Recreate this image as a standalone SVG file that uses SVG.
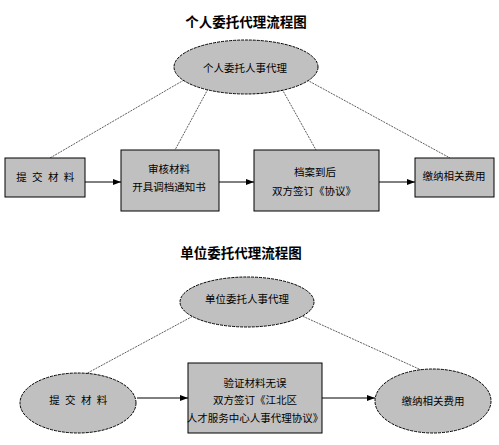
<svg xmlns="http://www.w3.org/2000/svg" width="499" height="445" viewBox="0 0 499 445">
<style>
.t{font-family:"Noto Sans CJK SC","Liberation Sans",sans-serif;font-size:10.5px;fill:#000;text-anchor:middle;dominant-baseline:central}
.sp{letter-spacing:1.5px}
.title{font-family:"Noto Sans CJK SC","Liberation Sans",sans-serif;font-size:13.5px;font-weight:bold;fill:#000;text-anchor:middle;dominant-baseline:central}
.box{fill:#c0c0c0;stroke:#000;stroke-width:1}
.ell{fill:#c0c0c0;stroke:#000;stroke-width:1;stroke-dasharray:3 1}
.dl{stroke:#333;stroke-width:0.8;stroke-dasharray:2 1;fill:none}
.ar{stroke:#000;stroke-width:1;fill:none;marker-end:url(#ah)}
</style>
<defs>
<marker id="ah" viewBox="0 0 8 8" refX="8" refY="4" markerWidth="8" markerHeight="8" markerUnits="userSpaceOnUse" orient="auto">
<path d="M0,1 L8,4 L0,7 Z" fill="#000"/>
</marker>
</defs>
<rect width="499" height="445" fill="#fff"/>
<text class="title" x="246" y="21">个人委托代理流程图</text>
<text class="title" x="241" y="252">单位委托代理流程图</text>
<g id="connectors">
<line class="dl" x1="184" y1="80" x2="50" y2="158"/>
<line class="dl" x1="208" y1="89" x2="175" y2="150"/>
<line class="dl" x1="282" y1="89" x2="316" y2="150"/>
<line class="dl" x1="307" y1="80" x2="450" y2="158"/>
<line class="ar" x1="85" y1="182" x2="121" y2="182"/>
<line class="ar" x1="219" y1="182" x2="254" y2="182"/>
<line class="ar" x1="379" y1="182" x2="415" y2="182"/>
<line class="dl" x1="195" y1="315" x2="82" y2="376"/>
<line class="dl" x1="300" y1="315" x2="430" y2="374"/>
<line class="ar" x1="137" y1="398" x2="188" y2="398"/>
<line class="ar" x1="322" y1="398" x2="375" y2="398"/>
</g>
<g id="n1"><ellipse class="ell" cx="246" cy="67" rx="72" ry="27"/><text class="t" x="245" y="67">个人委托人事代理</text></g>
<g id="n2"><rect class="box" x="5" y="158" width="80" height="39"/><text class="t sp" x="46" y="176">提 交 材 料</text></g>
<g id="n3"><rect class="box" x="121" y="150" width="98" height="61"/><text class="t" x="169" y="168">审核材料</text><text class="t" x="169" y="186">开具调档通知书</text></g>
<g id="n4"><rect class="box" x="254" y="150" width="125" height="61"/><text class="t" x="315" y="171">档案到后</text><text class="t" x="314" y="190">双方签订《协议》</text></g>
<g id="n5"><rect class="box" x="415" y="158" width="79" height="39"/><text class="t" x="454" y="175">缴纳相关费用</text></g>
<g id="n6"><ellipse class="ell" cx="247" cy="302" rx="67" ry="25"/><text class="t" x="247" y="298">单位委托人事代理</text></g>
<g id="n7"><ellipse class="ell" cx="78" cy="403" rx="58" ry="30"/><text class="t sp" x="79" y="399">提 交 材 料</text></g>
<g id="n8"><rect class="box" x="188" y="363" width="134" height="70"/><text class="t" x="255" y="382">验证材料无误</text><text class="t" x="255" y="399">双方签订《江北区</text><text class="t" x="255" y="417">人才服务中心人事代理协议》</text></g>
<g id="n9"><ellipse class="ell" cx="433" cy="401" rx="58" ry="32"/><text class="t" x="433" y="400">缴纳相关费用</text></g>
</svg>
